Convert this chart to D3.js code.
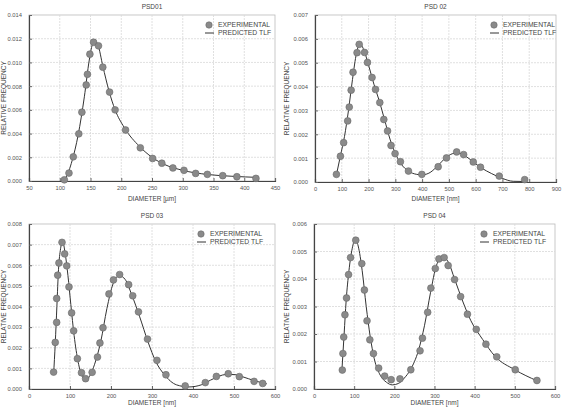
<!DOCTYPE html>
<html>
<head>
<meta charset="utf-8">
<script src="https://cdn.jsdelivr.net/npm/d3@7"></script>
<style>
  body { margin: 0; background: #fff; }
  svg { display: block; font-family: "Liberation Sans", Arial, sans-serif; }
  .tick-label { font-size: 5.8px; fill: #555; }
  .axis-title { font-size: 6.5px; fill: #444; }
  .legend-text { font-size: 6.8px; fill: #444; }
</style>
</head>
<body>
<svg id="chart" width="567" height="408"></svg>
<script>
// experimental points [diameter, relative frequency]
const psd01Exp = [[107.5,0.0001],[115,0.00067],[122,0.00204],[131,0.00398],[136,0.0058],[143,0.0081],[145,0.009],[149,0.0107],[155,0.0117],[163,0.0114],[170,0.0096],[181,0.0075],[190,0.006],[207,0.0043],[231,0.0028],[251,0.0019],[266,0.0015],[284,0.0011],[302,0.0009],[321,0.00064],[340,0.00056],[365,0.00045],[388,0.00036],[419,0.00022]];
const psd01Fit = [[103,0],[110,0.0003],[120,0.0017],[130,0.0039],[140,0.0071],[148,0.0102],[153,0.0115],[157,0.0118],[162,0.0115],[170,0.0097],[180,0.0076],[190,0.006],[205,0.0045],[230,0.0029],[250,0.002],[270,0.0014],[300,0.0009],[340,0.00055],[380,0.0004],[423,0.0003]];

const psd02Exp = [[80,0.00032],[95,0.00108],[107,0.00165],[122,0.00256],[128,0.00314],[135,0.00385],[142,0.0046],[157,0.00542],[165,0.00577],[185,0.00543],[196,0.00501],[213,0.00438],[226,0.00388],[242,0.00333],[257,0.00262],[271,0.00214],[284,0.00153],[299,0.00119],[319,0.00085],[349,0.00046],[399,0.00032],[460,0.00064],[491,0.00101],[529,0.00126],[555,0.00115],[591,0.00084],[618,0.00062],[688,0.00025],[783,0.0001]];
const psd02Fit = [[80,0.0003],[95,0.0011],[110,0.0019],[125,0.003],[140,0.0043],[155,0.0054],[168,0.0058],[180,0.0056],[200,0.0049],[220,0.0041],[240,0.0034],[260,0.0026],[280,0.0018],[300,0.0012],[320,0.00078],[350,0.00045],[380,0.00032],[400,0.0003],[430,0.0004],[460,0.0007],[490,0.00103],[520,0.0012],[540,0.0012],[560,0.0011],[590,0.00085],[620,0.0006],[660,0.00035],[700,0.00015],[740,0.00003],[790,0.00002]];

const psd03Exp = [[60,0.00082],[64,0.00226],[67.5,0.00323],[67.5,0.00439],[70,0.00552],[73,0.00611],[80.5,0.00711],[87,0.00655],[92,0.00597],[97.5,0.00495],[104,0.00369],[109,0.00282],[118,0.00147],[128,0.00079],[138,0.0005],[154,0.00081],[167,0.00155],[173,0.00223],[180.5,0.00297],[195,0.00461],[206,0.00529],[221,0.00555],[243,0.00506],[253,0.00452],[267,0.00374],[289,0.00242],[312,0.00139],[334,0.00069],[381,0.00015],[430,0.00031],[457,0.00061],[486,0.00074],[513,0.0006],[549,0.00037],[570,0.00027]];
const psd03Fit = [[60,0.0007],[64,0.0022],[68,0.004],[72,0.0058],[77,0.0068],[82,0.00715],[88,0.0066],[95,0.0055],[102,0.0041],[110,0.0026],[120,0.0013],[130,0.0006],[140,0.00045],[150,0.0007],[160,0.0012],[175,0.0023],[190,0.0039],[205,0.0051],[220,0.0055],[235,0.0053],[250,0.0046],[270,0.0035],[290,0.0023],[310,0.0013],[330,0.0007],[360,0.0002],[390,0.0001],[420,0.0002],[450,0.0005],[480,0.0007],[500,0.0007],[520,0.0006],[550,0.0004],[580,0.00025]];

const psd04Exp = [[70.5,0.00069],[72,0.00129],[74,0.00189],[77,0.0027],[81,0.00331],[86,0.00416],[91,0.00478],[104,0.00541],[119,0.00456],[125.5,0.0036],[132,0.00248],[139,0.00179],[148,0.00129],[161,0.00076],[176,0.00047],[192,0.00034],[214,0.00037],[241,0.0007],[264,0.00139],[270,0.00185],[283,0.00279],[291,0.00367],[302,0.00438],[311,0.00473],[324,0.00478],[334,0.00449],[350,0.00398],[365,0.00336],[382,0.00272],[404,0.00217],[428,0.00163],[455,0.00117],[501,0.0007],[555,0.00031]];
const psd04Fit = [[70,0.0008],[75,0.002],[80,0.0032],[87,0.0043],[95,0.0051],[103,0.00545],[110,0.0052],[120,0.0043],[130,0.003],[140,0.0019],[150,0.0011],[165,0.0005],[180,0.00025],[195,0.00015],[210,0.0002],[225,0.0004],[240,0.0007],[260,0.0014],[275,0.0023],[290,0.0035],[305,0.0045],[320,0.0048],[335,0.0046],[350,0.004],[370,0.0032],[390,0.0025],[420,0.0018],[450,0.0012],[500,0.0007],[555,0.0003]];

const titles = ["PSD01", "PSD 02", "PSD 03", "PSD 04"];
const xLabels = ["DIAMETER [\u00b5m]", "DIAMETER [nm]", "DIAMETER [nm]", "DIAMETER [nm]"];
const xTicks = [d3.range(50, 451, 50), d3.range(0, 901, 100), d3.range(0, 601, 100), d3.range(0, 601, 100)];
const yTicks = [d3.range(0, 0.0141, 0.002), d3.range(0, 0.0071, 0.001), d3.range(0, 0.0081, 0.001), d3.range(0, 0.0061, 0.001)];
const legendLabels = ["EXPERIMENTAL", "PREDICTED TLF"];

const panels = [
  { exp: psd01Exp, fit: psd01Fit, box: { left: 29, top: 15, right: 275, bottom: 181 }, yLab: 4, xLab: 20, legendDx: 66 },
  { exp: psd02Exp, fit: psd02Fit, box: { left: 315, top: 15, right: 556, bottom: 182 }, yLab: 287, xLab: 19, legendDx: 62 },
  { exp: psd03Exp, fit: psd03Fit, box: { left: 29, top: 224, right: 275, bottom: 389 }, yLab: 4, xLab: 16, legendDx: 74 },
  { exp: psd04Exp, fit: psd04Fit, box: { left: 314, top: 224, right: 555, bottom: 389 }, yLab: 287, xLab: 16, legendDx: 71 }
];

const svg = d3.select("#chart");

panels.forEach((panel, i) => {
  const b = panel.box;
  const xt = xTicks[i];
  const yt = yTicks[i];
  const x = d3.scaleLinear().domain([xt[0], xt[xt.length - 1]]).range([b.left, b.right]);
  const y = d3.scaleLinear().domain([0, yt[yt.length - 1]]).range([b.bottom, b.top]);
  const g = svg.append("g");

  g.append("rect")
    .attr("x", b.left).attr("y", b.top)
    .attr("width", b.right - b.left).attr("height", b.bottom - b.top)
    .attr("fill", "#fff").attr("stroke", "#bbb").attr("stroke-width", 0.8);

  // grid
  g.selectAll(".gx").data(xt.slice(1, -1)).join("line")
    .attr("x1", (d) => x(d)).attr("x2", (d) => x(d))
    .attr("y1", b.top).attr("y2", b.bottom)
    .attr("stroke", "#d8d8d8").attr("stroke-width", 0.8).attr("stroke-dasharray", "2,1");
  g.selectAll(".gy").data(yt.slice(1, -1)).join("line")
    .attr("x1", b.left).attr("x2", b.right)
    .attr("y1", (d) => y(d)).attr("y2", (d) => y(d))
    .attr("stroke", "#d8d8d8").attr("stroke-width", 0.8).attr("stroke-dasharray", "2,1");

  // axes
  const xAxis = g.append("g").attr("transform", `translate(0,${b.bottom})`)
    .call(d3.axisBottom(x).tickValues(xt).tickSize(-3).tickPadding(5).tickFormat(d3.format("d")));
  const yAxis = g.append("g").attr("transform", `translate(${b.left},0)`)
    .call(d3.axisLeft(y).tickValues(yt).tickSize(-3).tickPadding(7).tickFormat(d3.format(".3f")));
  [xAxis, yAxis].forEach((axis) => {
    axis.select(".domain").attr("stroke", "#444").attr("stroke-width", 1.2);
    axis.selectAll(".tick line").attr("stroke", "#666");
    axis.selectAll(".tick text").attr("class", "tick-label").attr("font-family", null).attr("font-size", null);
  });

  // fitted curve
  g.append("path")
    .datum(panel.fit)
    .attr("fill", "none")
    .attr("stroke", "#333")
    .attr("stroke-width", 1)
    .attr("d", d3.line().x((d) => x(d[0])).y((d) => y(d[1])).curve(d3.curveMonotoneX));

  // experimental points
  g.selectAll(".pt").data(panel.exp).join("circle")
    .attr("cx", (d) => x(d[0])).attr("cy", (d) => y(d[1])).attr("r", 3.4)
    .attr("fill", "#8a8a8a").attr("stroke", "#6a6a6a").attr("stroke-width", 0.6);

  // titles
  g.append("text").attr("class", "axis-title")
    .attr("x", (b.left + b.right) / 2).attr("y", b.top - 6)
    .attr("text-anchor", "middle").text(titles[i]);
  g.append("text").attr("class", "axis-title")
    .attr("x", (b.left + b.right) / 2).attr("y", b.bottom + panel.xLab)
    .attr("text-anchor", "middle").text(xLabels[i]);
  g.append("text").attr("class", "axis-title")
    .attr("transform", `translate(${panel.yLab},${(b.top + b.bottom) / 2}) rotate(-90)`)
    .attr("dy", "0.35em")
    .attr("text-anchor", "middle").text("RELATIVE FREQUENCY");

  // legend
  const lx = b.right - panel.legendDx;
  const ly = b.top + 10;
  g.append("circle").attr("cx", lx).attr("cy", ly).attr("r", 3.2)
    .attr("fill", "#8a8a8a").attr("stroke", "#6a6a6a").attr("stroke-width", 0.6);
  g.append("line").attr("x1", lx - 4).attr("x2", lx + 5).attr("y1", ly + 8).attr("y2", ly + 8)
    .attr("stroke", "#333").attr("stroke-width", 1);
  legendLabels.forEach((label, k) => {
    g.append("text").attr("class", "legend-text")
      .attr("x", lx + 9).attr("y", ly + k * 8).attr("dy", "0.35em").text(label);
  });
});
</script>
</body>
</html>
